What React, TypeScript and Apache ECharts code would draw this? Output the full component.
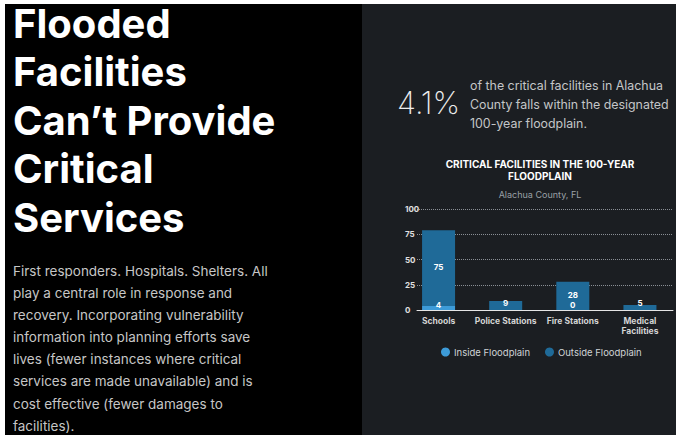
import React, { useEffect, useRef } from 'react';
import * as echarts from 'echarts';

const categories = ['Schools', 'Police Stations', 'Fire Stations', 'Medical\nFacilities'];
const insideFloodplain = [4, 0, 0, 0];
const outsideFloodplain = [75, 9, 28, 5];
const insideLabelShown = [true, false, true, false];
const yTicks = [0, 25, 50, 75, 100];
const seriesNames = ['Inside Floodplain', 'Outside Floodplain'];

const headline = ['Flooded', 'Facilities', 'Can\u2019t Provide', 'Critical', 'Services'];
const bodyLines = [
  'First responders. Hospitals. Shelters. All',
  'play a central role in response and',
  'recovery. Incorporating vulnerability',
  'information into planning efforts save',
  'lives (fewer instances where critical',
  'services are made unavailable) and is',
  'cost effective (fewer damages to',
  'facilities).',
];
const statValue = '4.1%';
const statLines = [
  'of the critical facilities in Alachua',
  'County falls within the designated',
  '100-year floodplain.',
];
const chartTitle = ['CRITICAL FACILITIES IN THE 100-YEAR', 'FLOODPLAIN'];
const chartSubtitle = 'Alachua County, FL';

const FONT = 'Inter, "Open Sans", sans-serif';
const INSIDE_COLOR = '#3d9bd8';
const OUTSIDE_COLOR = '#1f6a98';

export default function App() {
  const ref = useRef<HTMLDivElement>(null);
  useEffect(() => {
    document.body.style.margin = '0';
    if (!ref.current) return;
    const chart = echarts.init(ref.current, null, { renderer: 'svg' });

    const graphics: any[] = [
      { type: 'rect', z: -100, shape: { x: 0, y: 0, width: 679, height: 435 }, style: { fill: '#ffffff' } },
      { type: 'rect', z: -99, shape: { x: 5, y: 4, width: 357, height: 431 }, style: { fill: '#000000' } },
      { type: 'rect', z: -99, shape: { x: 362, y: 4, width: 314, height: 431 }, style: { fill: '#1b1e22' } },
    ];
    headline.forEach((t, i) => {
      graphics.push({
        type: 'text', z: 100,
        style: { text: t, x: 13, y: 23 + i * 48.5, fill: '#ffffff', font: `bold 40px ${FONT}`, align: 'left', verticalAlign: 'middle' },
      });
    });
    bodyLines.forEach((t, i) => {
      graphics.push({
        type: 'text', z: 100,
        style: { text: t, x: 13, y: 270.7 + i * 22.15, fill: '#c6c6c6', font: `13.5px ${FONT}`, align: 'left', verticalAlign: 'middle' },
      });
    });
    graphics.push({
      type: 'text', z: 100,
      style: { text: statValue, x: 397, y: 102, fill: '#ececec', font: `200 31px ${FONT}`, align: 'left', verticalAlign: 'middle' },
    });
    statLines.forEach((t, i) => {
      graphics.push({
        type: 'text', z: 100,
        style: { text: t, x: 470, y: 85 + i * 19, fill: '#c4c6c8', font: `12.4px ${FONT}`, align: 'left', verticalAlign: 'middle' },
      });
    });
    chartTitle.forEach((t, i) => {
      graphics.push({
        type: 'text', z: 100,
        style: { text: t, x: 540, y: 164 + i * 12, fill: '#ffffff', font: `bold 10px ${FONT}`, align: 'center', verticalAlign: 'middle' },
      });
    });
    graphics.push({
      type: 'text', z: 100,
      style: { text: chartSubtitle, x: 540, y: 194, fill: '#9aa0a6', font: `9px ${FONT}`, align: 'center', verticalAlign: 'middle' },
    });

    const option: any = {
      animation: false,
      graphic: graphics,
      legend: {
        data: seriesNames,
        left: 436,
        top: 342,
        icon: 'circle',
        itemWidth: 9,
        itemHeight: 9,
        itemGap: 15,
        textStyle: { color: '#cfd3d6', fontSize: 9.5, fontFamily: FONT, padding: [0, 0, 0, -1] },
      },
      grid: [
        { left: 405, right: 5.5, top: 209, bottom: 125 },
        { left: 417, right: 6, top: 209, bottom: 125 },
      ],
      xAxis: [
        {
          type: 'category', gridIndex: 0, data: categories,
          axisLine: { show: false }, axisTick: { show: false },
          axisLabel: { color: '#d4d4d4', fontSize: 8.5, fontWeight: 'bold', fontFamily: FONT, margin: 6, lineHeight: 10, interval: 0 },
        },
        {
          type: 'value', gridIndex: 1, min: 0, max: 1,
          axisLine: { show: true, lineStyle: { color: '#e6e6e6', width: 1 } },
          axisTick: { show: false }, axisLabel: { show: false }, splitLine: { show: false },
        },
      ],
      yAxis: [
        { type: 'value', gridIndex: 0, min: yTicks[0], max: yTicks[yTicks.length - 1], show: false, splitLine: { show: false } },
        {
          type: 'value', gridIndex: 1, min: yTicks[0], max: yTicks[yTicks.length - 1], interval: yTicks[1] - yTicks[0],
          axisLine: { show: false }, axisTick: { show: false },
          axisLabel: { color: '#e0e0e0', fontSize: 8, fontWeight: 'bold', fontFamily: FONT, align: 'left', margin: 12, padding: [0, 0, 4, 0] },
          splitLine: { show: true, lineStyle: { type: 'dotted', color: '#8a8f95', width: 1 } },
        },
      ],
      series: [
        {
          name: seriesNames[0], type: 'bar', stack: 'total', xAxisIndex: 0, yAxisIndex: 0, barWidth: 33,
          itemStyle: { color: INSIDE_COLOR },
          data: insideFloodplain.map((v, i) => ({
            value: v,
            label: { show: insideLabelShown[i] },
          })),
          label: { position: 'insideBottom', distance: 1.5, color: '#ffffff', fontSize: 8, lineHeight: 7, fontWeight: 'bold', fontFamily: FONT },
        },
        {
          name: seriesNames[1], type: 'bar', stack: 'total', xAxisIndex: 0, yAxisIndex: 0, barWidth: 33,
          itemStyle: { color: OUTSIDE_COLOR },
          data: outsideFloodplain.map((v) => ({
            value: v,
            label: { position: v < 12 ? 'insideBottom' : 'inside', distance: 3 },
          })),
          label: { show: true, color: '#ffffff', fontSize: 8, lineHeight: 7, fontWeight: 'bold', fontFamily: FONT, offset: [0, -1] },
        },
      ],
    };
    chart.setOption(option);
    return () => chart.dispose();
  }, []);
  return <div ref={ref} style={{ width: 679, height: 435 }} />;
}
